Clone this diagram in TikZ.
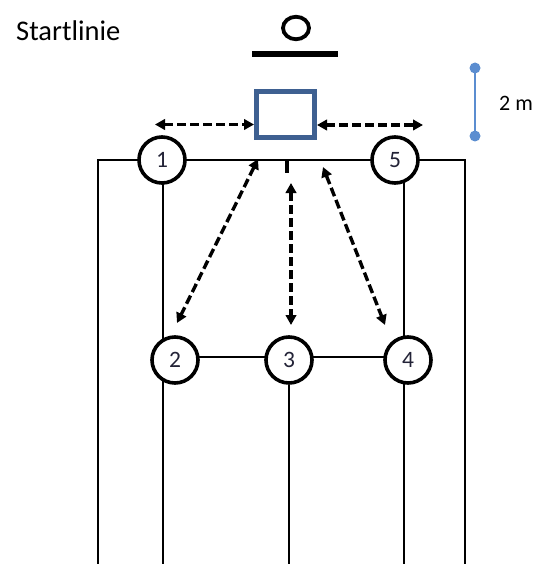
\documentclass[tikz,border=0pt]{standalone}
\usepackage{fontspec}
\setmainfont{Carlito}
\usetikzlibrary{arrows.meta,backgrounds,shapes.geometric}
\definecolor{sqblue}{RGB}{62,96,145}
\definecolor{barblue}{RGB}{91,141,208}
\definecolor{numcol}{RGB}{35,35,55}
\begin{document}
\begin{tikzpicture}[x=1pt,y=-1pt,
  frame/.style={line width=2.6pt,line cap=rect},
  thinline/.style={line width=1.6pt},
  posnode/.style={circle,draw,line width=3.6pt,fill=white,minimum size=46pt,inner sep=0pt,
              font=\fontsize{23.5}{23.5}\selectfont,text=numcol},
  darr/.style={line width=3.4pt,dash pattern=on 9pt off 4pt,
               {Triangle[length=10pt,width=10.5pt]}-{Triangle[length=10pt,width=10.5pt]}},
  lbl/.style={inner sep=0pt,anchor=west}]
\useasboundingbox (0,0) rectangle (547,564);
% labels
\node[lbl,font=\fontsize{28.5}{28.5}\selectfont] (start) at (16,31) {Startlinie};
\node[lbl,font=\fontsize{22}{22}\selectfont] (dist) at (499,103) {2 m};
% start marker
\node[ellipse,draw,line width=3.8pt,minimum width=26pt,minimum height=22.5pt,inner sep=0pt] (ball) at (296,28) {};
\coordinate (sl1) at (252,54);
\coordinate (sl2) at (338,54);
\draw[line width=6pt] (sl1) -- (sl2);
% square
\node[draw=sqblue,line width=5pt,minimum width=58pt,minimum height=46pt,inner sep=0pt] (sq) at (285.5,114.5) {};
% positions
\node[posnode] (c1) at (162,160) {1};
\node[posnode] (c5) at (395,160) {5};
\node[posnode] (c2) at (175,360) {2};
\node[posnode] (c3) at (289,360) {3};
\node[posnode] (c4) at (408,360) {4};
% field coordinates
\coordinate (TL) at (98,160);
\coordinate (TR) at (465,160);
\coordinate (BL) at (98,570);
\coordinate (BR) at (465,570);
\coordinate (r5) at (404,160);
\coordinate (l1) at (163,160);
\begin{scope}[on background layer]
  \draw[frame] (BL) -- (TL) -- (c1) -- (c5) -- (TR) -- (BR);
  \draw[frame] (l1) -- (l1 |- BL);
  \draw[frame] (r5) -- (r5 |- BR);
  \draw[thinline] ([yshift=3pt]c2.center) -- ([yshift=3pt]c4.center);
  \draw[thinline] (c3) -- (c3 |- BL);
\end{scope}
% scale bar
\coordinate (b1) at (475,68);
\coordinate (b2) at (475,136);
\draw[barblue,line width=1.8pt] (b1) -- (b2);
\fill[barblue] (b1) circle (5.5pt) (b2) circle (5.5pt);
% arrows
\coordinate (hl) at (155,124.5);
\coordinate (hr) at (423,125);
\draw[darr] (hl) -- (sq.west |- hl);
\draw[darr] (sq.east |- hr) -- (hr);
\coordinate (a1t) at (258,159);
\coordinate (a1b) at (177,323);
\coordinate (a2t) at (291,183);
\coordinate (a2b) at (291,325);
\coordinate (a3t) at (323,167);
\coordinate (a3b) at (385,325);
\draw[darr] (a1t) -- (a1b);
\draw[darr] (a2t) -- (a2b);
\draw[darr] (a3t) -- (a3b);
\coordinate (tk1) at (287,160);
\coordinate (tk2) at (287,173);
\draw[line width=3.3pt] (tk1) -- (tk2);
\end{tikzpicture}
\end{document}
